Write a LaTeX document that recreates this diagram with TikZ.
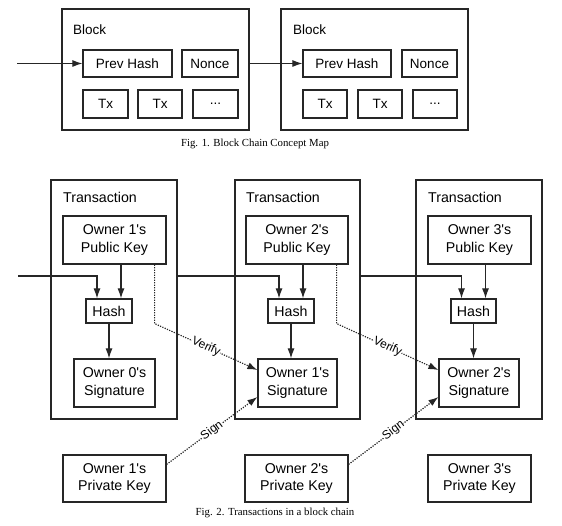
\documentclass[tikz,border=0pt]{standalone}
\usepackage{fontspec}
\setmainfont{Liberation Serif}
\newfontfamily\hv{Liberation Sans}
\usetikzlibrary{arrows.meta,calc}
\begin{document}
\begin{tikzpicture}[x=1pt,y=-1pt,
  outer/.style={draw=black!85,line width=1.2pt,inner sep=0pt},
  box/.style={draw=black!85,line width=1.2pt,inner sep=0pt,align=center,font=\hv\fontsize{13.5}{16}\selectfont},
  tbox/.style={draw=black!85,line width=1.2pt,inner sep=0pt,align=center,font=\hv\fontsize{14.2}{17.5}\selectfont},
  lbl/.style={anchor=west,inner sep=0pt,font=\hv\fontsize{13.5}{16}\selectfont},
  tlbl/.style={anchor=west,inner sep=0pt,font=\hv\fontsize{14.2}{17}\selectfont},
  arr/.style={line width=1.1pt,draw=black!85,-{Latex[length=10pt,width=7pt]}},
  dotarr/.style={line width=1.2pt,draw=black!85,dash pattern=on 1.2pt off 1.3pt,-{Latex[length=10pt,width=7pt]}},
  elbl/.style={sloped,fill=white,inner sep=0.3pt,font=\hv\fontsize{12}{13}\selectfont},
  figcap/.style={inner sep=0pt,font=\fontsize{10.8}{13}\selectfont}
]
\useasboundingbox (0,0) rectangle (562,526);

% ---------- Fig. 1 ----------
\node[outer,minimum width=187pt,minimum height=121pt] (b1) at (155.5,69.5) {};
\node[outer,minimum width=187pt,minimum height=121pt] (b2) at (374.5,69.5) {};
\node[lbl] (bl1) at (73,30) {Block};
\node[lbl] (bl2) at (293,30) {Block};
\node[box,minimum width=89pt,minimum height=27pt] (ph1) at (127.5,63.5) {Prev Hash};
\node[box,minimum width=56pt,minimum height=27pt] (n1) at (210,63.5) {Nonce};
\node[box,minimum width=45pt,minimum height=28pt] (tx11) at (105.5,104) {Tx};
\node[box,minimum width=44pt,minimum height=28pt] (tx12) at (160,104) {Tx};
\node[box,minimum width=45pt,minimum height=28pt] (tx13) at (215.5,104) {...};
\node[box,minimum width=88pt,minimum height=27pt] (ph2) at (347,63.5) {Prev Hash};
\node[box,minimum width=55pt,minimum height=27pt] (n2) at (429.5,63.5) {Nonce};
\node[box,minimum width=44pt,minimum height=28pt] (tx21) at (325,104) {Tx};
\node[box,minimum width=44pt,minimum height=28pt] (tx22) at (380,104) {Tx};
\node[box,minimum width=44pt,minimum height=28pt] (tx23) at (435,104) {...};
\coordinate (in1) at (17,63.5);
\draw[arr] (in1) -- (ph1.west);
\draw[arr] (b1.east |- ph2.west) -- (ph2.west);
\node[figcap] (c1) at (255,144) {Fig. 1. Block Chain Concept Map};

% ---------- Fig. 2 ----------
\node[outer,minimum width=126pt,minimum height=239pt] (t1) at (114,299.5) {};
\node[outer,minimum width=125pt,minimum height=239pt] (t2) at (297.5,299.5) {};
\node[outer,minimum width=126pt,minimum height=239pt] (t3) at (479,299.5) {};
\node[tlbl] (tl1) at (63,197) {Transaction};
\node[tlbl] (tl2) at (246,197) {Transaction};
\node[tlbl] (tl3) at (428,197) {Transaction};

\node[tbox,minimum width=103pt,minimum height=48pt] (pk1) at (114.5,240) {Owner 1's\\Public Key};
\node[tbox,minimum width=102pt,minimum height=48pt] (pk2) at (297,240) {Owner 2's\\Public Key};
\node[tbox,minimum width=103pt,minimum height=48pt] (pk3) at (479.5,240) {Owner 3's\\Public Key};

\node[tbox,minimum width=46pt,minimum height=24pt] (h1) at (109,311) {Hash};
\node[tbox,minimum width=46pt,minimum height=24pt] (h2) at (291,311) {Hash};
\node[tbox,minimum width=45pt,minimum height=24pt] (h3) at (473.5,311) {Hash};

\node[tbox,minimum width=81pt,minimum height=48pt] (s1) at (114.5,383) {Owner 0's\\Signature};
\node[tbox,minimum width=79pt,minimum height=48pt] (s2) at (297.5,383) {Owner 1's\\Signature};
\node[tbox,minimum width=80pt,minimum height=48pt] (s3) at (479,383) {Owner 2's\\Signature};

\node[tbox,minimum width=103pt,minimum height=47pt] (k1) at (114.5,478.5) {Owner 1's\\Private Key};
\node[tbox,minimum width=103pt,minimum height=47pt] (k2) at (296.5,478.5) {Owner 2's\\Private Key};
\node[tbox,minimum width=103pt,minimum height=47pt] (k3) at (479.5,478.5) {Owner 3's\\Private Key};

% hash inputs
\foreach \i in {1,2,3}{
  \coordinate (h\i l) at ($(h\i.north)+(-12,0)$);
  \coordinate (h\i r) at ($(h\i.north)+(12,0)$);
  \draw[arr] (pk\i.south -| h\i r) -- (h\i r);
  \draw[arr] (h\i.south) -- (h\i.south |- s\i.north);
}
\coordinate (in2) at (18,276);
\draw[arr] (in2) -| (h1l);
\draw[arr] (t1.east |- in2) -| (h2l);
\draw[arr] (t2.east |- in2) -| (h3l);

% verify
\coordinate (v1a) at ($(pk1.south east)+(-12,0)$);
\coordinate (v1b) at (v1a |- h1.south);
\coordinate (v1c) at ($(s2.west)+(0,-13)$);
\draw[dotarr] (v1a) -- (v1b) -- node[elbl] (vl1) {Verify} (v1c);
\coordinate (v2a) at ($(pk2.south east)+(-12,0)$);
\coordinate (v2b) at (v2a |- h2.south);
\coordinate (v2c) at ($(s3.west)+(0,-13)$);
\draw[dotarr] (v2a) -- (v2b) -- node[elbl] (vl2) {Verify} (v2c);

% sign
\coordinate (g1a) at ($(k1.north east)+(0,10)$);
\coordinate (g1b) at ($(s2.west)+(0,14)$);
\draw[dotarr] (g1a) -- node[elbl] (sl1) {Sign} (g1b);
\coordinate (g2a) at ($(k2.north east)+(0,10)$);
\coordinate (g2b) at ($(s3.west)+(0,14)$);
\draw[dotarr] (g2a) -- node[elbl] (sl2) {Sign} (g2b);

\node[figcap] (c2) at (275,513) {Fig. 2. Transactions in a block chain};
\end{tikzpicture}
\end{document}
